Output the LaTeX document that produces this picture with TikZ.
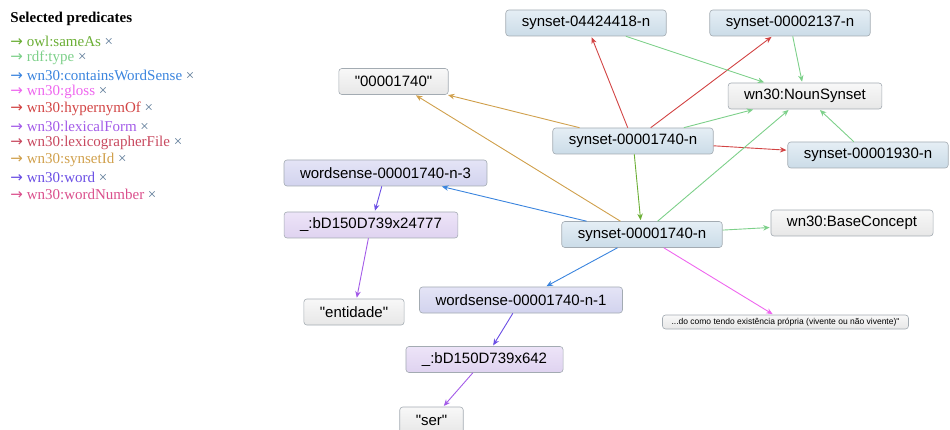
\documentclass[tikz,border=0pt]{standalone}
\usepackage{fontspec}
\setmainfont{Liberation Serif}
\setsansfont{Liberation Sans}
\newfontfamily\arrowfont{DejaVu Sans}
\usepackage{xcolor}
\usetikzlibrary{arrows.meta}

\definecolor{sameAsGreen}{HTML}{6AAE34}
\definecolor{typeGreen}{HTML}{7DD08A}
\definecolor{senseBlue}{HTML}{3A84DE}
\definecolor{glossPink}{HTML}{EE66EE}
\definecolor{hyperRed}{HTML}{D24444}
\definecolor{formPurple}{HTML}{A35BE8}
\definecolor{fileRose}{HTML}{C8495F}
\definecolor{idGold}{HTML}{D0A04C}
\definecolor{wordViolet}{HTML}{6A4EE4}
\definecolor{numPink}{HTML}{DA4F8C}
\definecolor{xGray}{HTML}{5B7896}
\definecolor{boxBorder}{HTML}{A3ABB2}
\definecolor{synTop}{HTML}{E5EEF5}
\definecolor{synBot}{HTML}{CBDCE8}
\definecolor{senseTop}{HTML}{E4E4F6}
\definecolor{senseBot}{HTML}{D2D3EE}
\definecolor{blankTop}{HTML}{EDE4F8}
\definecolor{blankBot}{HTML}{DFD3F0}
\definecolor{litTop}{HTML}{F8F8F8}
\definecolor{litBot}{HTML}{E7E7E7}

\newcommand{\qt}[1]{\textquotedbl#1\textquotedbl}
\newcommand{\pred}[1]{{\arrowfont →} #1 \textcolor{xGray}{×}}

\begin{document}
\begin{tikzpicture}[x=1pt,y=-1pt,->,>={Stealth[length=6.5pt,width=5.5pt]},shorten >=1pt,line width=0.9pt,
    res node/.style={rectangle,rounded corners=3pt,draw=boxBorder,line width=0.6pt,font=\sffamily\fontsize{15}{15}\selectfont,inner xsep=16pt,inner ysep=0pt,minimum height=26pt},
    synset node/.style={res node,top color=synTop,bottom color=synBot},
    sense node/.style={res node,top color=senseTop,bottom color=senseBot},
    blank node/.style={res node,top color=blankTop,bottom color=blankBot},
    literal node/.style={res node,top color=litTop,bottom color=litBot},
    legend/.style={anchor=west,inner sep=0pt,font=\fontsize{15}{15}\selectfont}]

    \useasboundingbox (0,0) rectangle (950,430);
    \clip (0,0) rectangle (950,430);

    % legend
    \node[legend,font=\bfseries\fontsize{15}{15}\selectfont] (t) at (10,19) {Selected predicates};
    \node[legend,text=sameAsGreen] (l1) at (10,41) {\pred{owl:sameAs}};
    \node[legend,text=typeGreen] (l2) at (10,58) {\pred{rdf:type}};
    \node[legend,text=senseBlue] (l3) at (10,75) {\pred{wn30:containsWordSense}};
    \node[legend,text=glossPink] (l4) at (10,92) {\pred{wn30:gloss}};
    \node[legend,text=hyperRed] (l5) at (10,109) {\pred{wn30:hypernymOf}};
    \node[legend,text=formPurple] (l6) at (10,126) {\pred{wn30:lexicalForm}};
    \node[legend,text=fileRose] (l7) at (10,143) {\pred{wn30:lexicographerFile}};
    \node[legend,text=idGold] (l8) at (10,160) {\pred{wn30:synsetId}};
    \node[legend,text=wordViolet] (l9) at (10,177) {\pred{wn30:word}};
    \node[legend,text=numPink] (l10) at (10,194) {\pred{wn30:wordNumber}};

    % graph
    \node[synset node] (1) at (586,23) {synset-04424418-n};
    \node[synset node] (2) at (790,23) {synset-00002137-n};
    \node[literal node] (3) at (393.5,81.5) {\qt{00001740}};
    \node[literal node] (4) at (805,96) {wn30:NounSynset};
    \node[synset node] (5) at (633,141) {synset-00001740-n};
    \node[synset node] (6) at (868,155) {synset-00001930-n};
    \node[sense node] (7) at (385.5,173) {wordsense-00001740-n-3};
    \node[blank node] (8) at (371,225) {\_:bD150D739x24777};
    \node[synset node] (9) at (642,234.5) {synset-00001740-n};
    \node[literal node] (10) at (852,223) {wn30:BaseConcept};
    \node[sense node] (11) at (521,300) {wordsense-00001740-n-1};
    \node[literal node,font=\sffamily\fontsize{8.5}{8.5}\selectfont,inner xsep=9pt,minimum height=14pt] (12) at (785.5,322) {...do como tendo existência própria (vivente ou não vivente)\textquotedbl};
    \node[literal node] (13) at (354,312) {\qt{entidade}};
    \node[blank node] (14) at (484.5,359.5) {\_:bD150D739x642};
    \node[literal node] (15) at (431.5,420) {\qt{ser}};

    \path
        (5) edge[color=hyperRed] (1)
        (5) edge[color=hyperRed] (2)
        (5) edge[color=hyperRed] (6)
        (5) edge[color=typeGreen] (4)
        (5) edge[color=idGold] (3)
        (5) edge[color=sameAsGreen] (9)

        (1) edge[color=typeGreen] (4)
        (2) edge[color=typeGreen] (4)
        (6) edge[color=typeGreen] (4)

        (9) edge[color=typeGreen] (4)
        (9) edge[color=typeGreen] (10)
        (9) edge[color=idGold] (3)
        (9) edge[color=senseBlue] (7)
        (9) edge[color=senseBlue] (11)
        (9) edge[color=glossPink] (12)

        (7) edge[color=wordViolet] (8)
        (8) edge[color=formPurple] (13)
        (11) edge[color=wordViolet] (14)
        (14) edge[color=formPurple] (15)
        ;
\end{tikzpicture}
\end{document}
